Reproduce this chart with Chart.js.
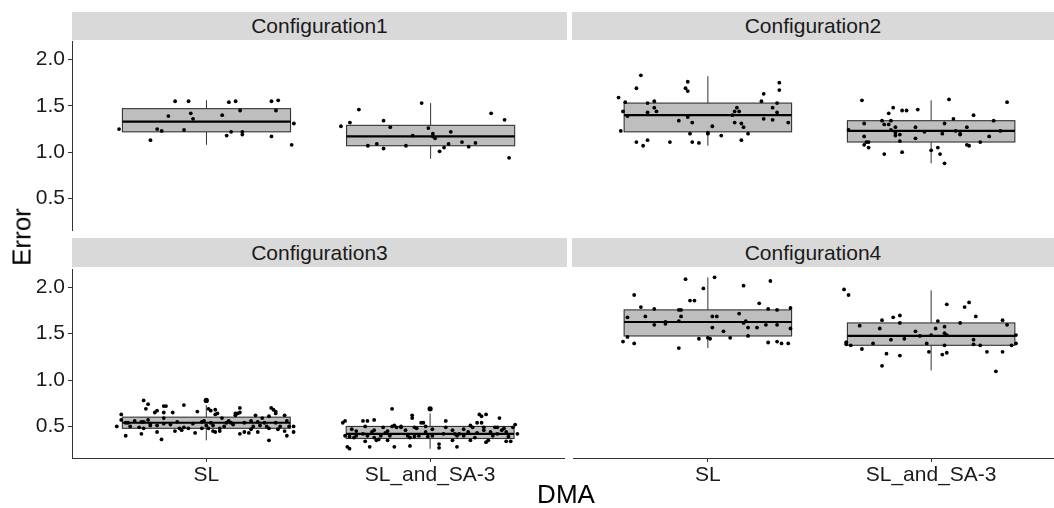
<!DOCTYPE html>
<html>
<head>
<meta charset="utf-8">
<script src="https://cdn.jsdelivr.net/npm/chart.js@4.4.1/dist/chart.umd.min.js"></script>
<style>
  body { margin: 0; width: 1054px; height: 508px; overflow: hidden; background: #fff; position: relative;
         font-family: 'Liberation Sans', Arial, sans-serif; }
  canvas { position: absolute; }
  .strip { position: absolute; background: #d9d9d9; color: #1a1a1a; font-size: 21px;
           display: flex; align-items: center; justify-content: center; }
  .title { position: absolute; color: #000; font-size: 26px; white-space: nowrap; }
</style>
</head>
<body>
<div class="strip" style="left:72px;top:12px;width:495px;height:28px" id="s0"></div>
<div class="strip" style="left:572px;top:12px;width:482px;height:28px" id="s1"></div>
<div class="strip" style="left:72px;top:238px;width:495px;height:29px" id="s2"></div>
<div class="strip" style="left:572px;top:238px;width:482px;height:29px" id="s3"></div>
<canvas id="p0" width="567" height="192" style="left:0;top:40px"></canvas>
<canvas id="p1" width="495" height="192" style="left:572px;top:40px"></canvas>
<canvas id="p2" width="567" height="233" style="left:0;top:267px"></canvas>
<canvas id="p3" width="495" height="233" style="left:572px;top:267px"></canvas>
<div class="title" style="left:22px;top:237px;transform:translate(-50%,-50%) rotate(-90deg)">Error</div>
<div class="title" style="left:566px;top:494px;transform:translate(-50%,-50%)">DMA</div>
<script>
// ---- data ----
const categories = ['SL', 'SL_and_SA-3'];
const panelTitles = ['Configuration1', 'Configuration2', 'Configuration3', 'Configuration4'];
const yTicks = [0.5, 1.0, 1.5, 2.0];

// box stats per category: [whisker low, q1, median, q3, whisker high]
const c1Stats = [[1.08, 1.22, 1.33, 1.47, 1.56], [0.93, 1.07, 1.17, 1.29, 1.53]];
const c2Stats = [[1.07, 1.22, 1.40, 1.53, 1.82], [0.88, 1.11, 1.23, 1.34, 1.56]];
const c3Stats = [[0.35, 0.48, 0.54, 0.60, 0.73], [0.26, 0.37, 0.42, 0.50, 0.64]];
const c4Stats = [[1.34, 1.47, 1.62, 1.75, 2.10], [1.10, 1.37, 1.47, 1.61, 1.96]];
const c3Outliers = [[0.78], [0.69]];

// jittered observations (x in category units)
const c1SLx = [0.61,0.75,0.78,0.80,0.83,0.86,0.90,0.92,0.93,0.94,1.07,1.09,1.10,1.11,1.13,1.15,1.16,1.16,1.29,1.29,1.31,1.32,1.39,1.38];
const c1SLy = [1.25,1.13,1.25,1.23,1.39,1.55,1.24,1.55,1.42,1.36,1.40,1.18,1.54,1.22,1.55,1.45,1.22,1.19,1.17,1.55,1.45,1.56,1.31,1.08];
const c1SAx = [1.60,1.64,1.68,1.72,1.76,1.79,1.79,1.82,1.89,1.92,1.96,1.99,2.01,2.01,2.02,2.04,2.06,2.08,2.09,2.14,2.17,2.20,2.27,2.33,2.35];
const c1SAy = [1.28,1.32,1.46,1.07,1.09,1.34,1.04,1.27,1.07,1.18,1.53,1.26,1.20,1.17,1.15,1.01,1.05,1.09,1.22,1.11,1.06,1.10,1.42,1.35,0.94];

const c2SLx = [0.60,0.61,0.62,0.63,0.64,0.68,0.68,0.70,0.71,0.73,0.73,0.73,0.76,0.76,0.77,0.83,0.87,0.90,0.91,0.91,0.91,0.92,0.93,0.93,
               0.96,1.00,1.00,1.02,1.06,1.11,1.12,1.12,1.13,1.14,1.15,1.15,1.16,1.18,1.24,1.25,1.25,1.29,1.29,1.31,1.31,1.32,1.32,1.36];
const c2SLy = [1.59,1.23,1.44,1.54,1.39,1.69,1.11,1.83,1.07,1.43,1.53,1.13,1.55,1.48,1.44,1.11,1.34,1.69,1.76,1.66,1.38,1.20,1.32,1.11,
               1.10,1.21,1.20,1.28,1.18,1.40,1.44,1.32,1.48,1.44,1.31,1.13,1.27,1.20,1.55,1.63,1.36,1.48,1.35,1.53,1.43,1.75,1.67,1.32];
const c2SAx = [1.63,1.69,1.70,1.70,1.70,1.71,1.72,1.72,1.78,1.79,1.79,1.81,1.81,1.82,1.82,1.83,1.84,1.84,1.84,1.86,1.86,1.87,1.87,1.89,
               1.93,1.93,1.94,1.97,2.00,2.03,2.04,2.05,2.06,2.06,2.08,2.10,2.11,2.13,2.13,2.16,2.16,2.17,2.19,2.22,2.26,2.28,2.31,2.34];
const c2SAy = [1.24,1.56,1.31,1.17,1.08,1.11,1.11,1.05,1.34,1.30,0.98,1.42,1.30,1.34,1.24,1.48,1.18,1.27,1.21,1.12,1.19,1.00,1.45,1.45,
               1.15,1.27,1.46,1.22,1.02,1.05,0.98,1.20,0.88,1.31,1.57,1.36,1.23,1.19,1.20,1.27,1.08,1.07,1.40,1.11,1.17,1.34,1.23,1.54];

const c3SLx = [0.72,0.74,0.73,0.62,0.62,0.60,0.64,0.71,0.72,0.66,0.64,0.71,0.72,0.74,0.75,0.77,0.78,0.81,0.82,0.81,0.80,0.78,
               0.81,0.81,0.85,0.84,0.86,0.88,0.89,0.90,0.92,0.90,0.96,0.95,0.98,1.00,0.98,0.94,0.87,0.78,0.65,0.68,0.70,0.75,
               1.01,1.02,1.04,1.05,1.04,1.02,1.01,1.03,1.04,1.06,1.07,1.06,1.08,1.10,1.11,1.13,1.13,1.14,1.15,1.15,
               1.15,1.17,1.19,1.17,1.20,1.21,1.22,1.23,1.24,1.25,1.26,1.27,1.28,1.28,1.29,1.30,1.31,1.31,1.31,1.32,
               1.33,1.35,1.36,1.36,1.37,1.39,1.39,1.28,1.20,1.09,1.12,1.23,1.35,0.99,1.03];
const c3SLy = [0.78,0.74,0.69,0.63,0.57,0.50,0.40,0.42,0.48,0.50,0.54,0.55,0.55,0.57,0.53,0.65,0.67,0.72,0.72,0.65,0.36,0.44,
               0.59,0.53,0.65,0.52,0.45,0.48,0.46,0.49,0.48,0.73,0.66,0.43,0.48,0.51,0.55,0.53,0.55,0.51,0.54,0.56,0.49,0.51,
               0.69,0.67,0.68,0.64,0.63,0.54,0.48,0.45,0.44,0.48,0.59,0.45,0.50,0.56,0.54,0.62,0.64,0.64,0.70,0.65,
               0.42,0.44,0.43,0.54,0.47,0.50,0.62,0.55,0.51,0.59,0.54,0.50,0.61,0.48,0.70,0.68,0.64,0.66,0.54,0.47,
               0.50,0.62,0.56,0.40,0.50,0.44,0.50,0.35,0.56,0.54,0.52,0.44,0.45,0.56,0.51];
const c3SAx = [1.83,1.61,1.62,1.70,1.72,1.75,1.71,1.65,1.67,1.64,1.62,1.66,1.67,1.71,1.73,1.63,1.64,1.74,1.75,1.75,
               1.77,1.79,1.80,1.81,1.83,1.84,1.85,1.87,1.87,1.84,1.81,1.78,1.82,1.89,1.90,1.91,1.92,1.92,1.93,1.93,
               1.94,1.95,1.91,1.96,1.98,1.99,1.76,1.70,1.72,
               1.98,1.97,2.01,2.04,2.04,2.07,2.07,2.10,2.10,2.11,2.12,2.12,2.13,2.15,2.17,2.18,2.19,2.18,2.20,2.21,
               2.22,2.23,2.23,2.24,2.24,2.25,2.25,2.26,2.27,2.28,2.30,2.30,2.31,2.32,2.33,2.34,2.34,2.35,2.36,2.37,
               2.38,2.39,2.01,2.06,2.15,2.21,2.29];
const c3SAy = [0.69,0.54,0.56,0.56,0.56,0.57,0.50,0.47,0.45,0.39,0.40,0.38,0.40,0.34,0.28,0.28,0.26,0.44,0.46,0.38,
               0.36,0.49,0.43,0.45,0.50,0.51,0.49,0.49,0.50,0.28,0.35,0.40,0.40,0.46,0.40,0.38,0.59,0.62,0.49,0.39,
               0.48,0.40,0.29,0.54,0.44,0.39,0.35,0.42,0.40,
               0.50,0.54,0.40,0.31,0.27,0.56,0.49,0.46,0.35,0.42,0.40,0.28,0.42,0.40,0.44,0.51,0.49,0.35,0.38,0.54,
               0.63,0.61,0.54,0.46,0.49,0.63,0.33,0.35,0.44,0.40,0.42,0.49,0.59,0.46,0.48,0.44,0.34,0.39,0.34,0.49,
               0.52,0.42,0.47,0.42,0.47,0.43,0.49];

const c4SLx = [0.62,0.64,0.64,0.67,0.67,0.70,0.72,0.76,0.76,0.81,0.81,0.87,0.87,0.87,0.88,0.88,0.90,0.92,0.94,0.96,0.98,1.00,1.01,1.02,
               1.02,1.03,1.04,1.07,1.10,1.14,1.16,1.16,1.17,1.18,1.18,1.22,1.23,1.26,1.27,1.27,1.28,1.31,1.31,1.31,1.33,1.36,1.37,1.37];
const c4SLy = [1.41,1.67,1.46,1.91,1.39,1.78,1.68,1.76,1.59,1.62,1.60,1.63,1.34,1.75,1.68,1.75,2.08,1.85,1.85,1.44,1.98,1.45,1.44,1.56,
               1.68,2.10,1.68,1.52,1.45,1.71,2.01,1.61,1.63,1.56,1.47,1.56,1.82,1.59,1.76,1.40,2.06,1.59,1.75,1.41,1.39,1.39,1.77,1.55];
const c4SAx = [1.61,1.63,1.62,1.62,1.62,1.64,1.68,1.69,1.74,1.77,1.78,1.78,1.80,1.82,1.83,1.86,1.86,1.86,1.88,1.93,1.95,1.98,1.99,2.00,
               2.02,2.03,2.05,2.06,2.06,2.07,2.07,2.06,2.07,2.13,2.15,2.17,2.19,2.19,2.20,2.22,2.25,2.29,2.32,2.32,2.34,2.36,2.38,2.38];
const c4SAy = [1.97,1.91,1.40,1.40,1.38,1.37,1.58,1.33,1.39,1.55,1.64,1.15,1.28,1.43,1.67,1.69,1.61,1.26,1.44,1.52,1.47,1.39,1.30,1.48,
               1.55,1.63,1.27,1.57,1.50,1.48,1.29,1.37,1.81,1.61,1.78,1.83,1.43,1.38,1.68,1.37,1.30,1.09,1.64,1.30,1.59,1.37,1.48,1.39];

// ---- drawing ----
const BOX_WIDTH = 0.75;
const Y_MIN = 0.16, Y_MAX = 2.19;
const AXIS_COLOR = '#333333';
const TEXT_COLOR = '#1a1a1a';
const FONT = "'Liberation Sans', Arial, sans-serif";

const boxPlugin = {
  id: 'boxes',
  beforeDatasetsDraw(chart, args, opts) {
    const { ctx, scales: { x, y } } = chart;
    ctx.save();
    opts.stats.forEach((s, i) => {
      const c = i + 1;
      const px = x.getPixelForValue(c);
      const l = x.getPixelForValue(c - BOX_WIDTH / 2);
      const r = x.getPixelForValue(c + BOX_WIDTH / 2);
      const [wLo, q1, med, q3, wHi] = s.map(v => y.getPixelForValue(v));
      // whiskers
      ctx.strokeStyle = '#333333';
      ctx.lineWidth = 1;
      ctx.beginPath();
      ctx.moveTo(px, q1); ctx.lineTo(px, wLo);
      ctx.moveTo(px, q3); ctx.lineTo(px, wHi);
      ctx.stroke();
      // box
      ctx.fillStyle = '#bebebe';
      ctx.fillRect(l, q3, r - l, q1 - q3);
      ctx.strokeStyle = '#333333';
      ctx.lineWidth = 1.1;
      ctx.strokeRect(l, q3, r - l, q1 - q3);
      // median
      ctx.strokeStyle = '#000';
      ctx.lineWidth = 2.2;
      ctx.beginPath();
      ctx.moveTo(l, med); ctx.lineTo(r, med);
      ctx.stroke();
    });
    ctx.restore();
  }
};

function toPoints(xs, ys) {
  return xs.map((x, i) => ({ x, y: ys[i] }));
}

const panels = [
  { stats: c1Stats, pts: [[c1SLx, c1SLy], [c1SAx, c1SAy]], out: null, left: true,  bottom: false },
  { stats: c2Stats, pts: [[c2SLx, c2SLy], [c2SAx, c2SAy]], out: null, left: false, bottom: false },
  { stats: c3Stats, pts: [[c3SLx, c3SLy], [c3SAx, c3SAy]], out: c3Outliers, left: true,  bottom: true },
  { stats: c4Stats, pts: [[c4SLx, c4SLy], [c4SAx, c4SAy]], out: null, left: false, bottom: true }
];

panels.forEach((p, k) => {
  document.getElementById('s' + k).textContent = panelTitles[k];

  const datasets = p.pts.map(([xs, ys]) => ({
    data: toPoints(xs, ys),
    pointRadius: 1.9,
    pointHoverRadius: 1.9,
    pointBackgroundColor: '#000',
    pointBorderWidth: 0
  }));
  if (p.out) {
    datasets.push({
      data: p.out.flatMap((ys, i) => ys.map(v => ({ x: i + 1, y: v }))),
      pointRadius: 2.6,
      pointHoverRadius: 2.6,
      pointBackgroundColor: '#000',
      pointBorderWidth: 0
    });
  }

  new Chart(document.getElementById('p' + k), {
    type: 'scatter',
    data: { datasets },
    plugins: [boxPlugin],
    options: {
      responsive: false,
      animation: false,
      devicePixelRatio: 1,
      layout: { padding: 0 },
      plugins: {
        legend: { display: false },
        tooltip: { enabled: false },
        boxes: { stats: p.stats }
      },
      scales: {
        x: {
          type: 'linear',
          min: 0.4,
          max: 2.6,
          display: p.bottom,
          afterBuildTicks: s => { s.ticks = categories.map((c, i) => ({ value: i + 1 })); },
          afterFit: s => {
            if (!p.bottom) return;
            s.height = 42; s.paddingLeft = 0; s.paddingRight = 0;
          },
          ticks: {
            callback: v => categories[v - 1],
            color: TEXT_COLOR,
            font: { family: FONT, size: 21 },
            padding: 1,
            maxRotation: 0
          },
          grid: { drawOnChartArea: false, drawTicks: true, tickLength: 4, color: AXIS_COLOR },
          border: { display: true, color: AXIS_COLOR, width: 1 }
        },
        y: {
          min: Y_MIN,
          max: Y_MAX,
          display: p.left,
          afterBuildTicks: s => { s.ticks = yTicks.map(v => ({ value: v })); },
          afterFit: s => {
            if (!p.left) return;
            s.width = 72; s.paddingTop = 0; s.paddingBottom = 0;
          },
          ticks: {
            callback: v => v.toFixed(1),
            color: TEXT_COLOR,
            font: { family: FONT, size: 21 },
            padding: 3
          },
          grid: { drawOnChartArea: false, drawTicks: true, tickLength: 4, color: AXIS_COLOR },
          border: { display: true, color: AXIS_COLOR, width: 1 }
        }
      }
    }
  });
});
</script>
</body>
</html>
